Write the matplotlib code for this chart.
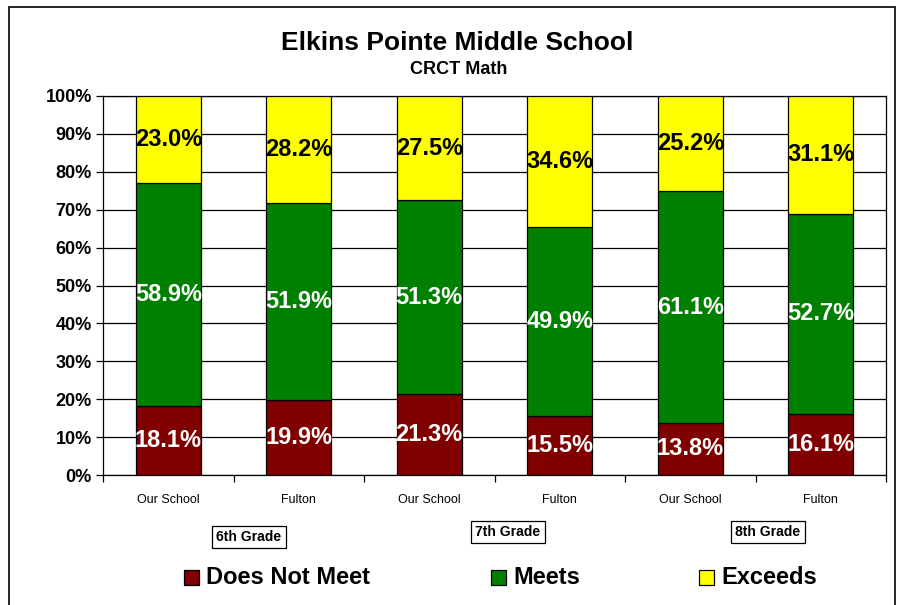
import matplotlib.pyplot as plt
from matplotlib.patches import Rectangle
import numpy as np

plt.rcParams['font.family'] = ['Liberation Sans', 'DejaVu Sans']

schools = ["Our School", "Fulton", "Our School", "Fulton", "Our School", "Fulton"]
grades = ["6th Grade", "7th Grade", "8th Grade"]
does_not_meet = [18.1, 19.9, 21.3, 15.5, 13.8, 16.1]
meets = [58.9, 51.9, 51.3, 49.9, 61.1, 52.7]
exceeds = [23.0, 28.2, 27.5, 34.6, 25.2, 31.1]

series = [
    ("Does Not Meet", does_not_meet, "#800000", "white"),
    ("Meets", meets, "#008000", "white"),
    ("Exceeds", exceeds, "#FFFF00", "black"),
]

fig = plt.figure(figsize=(8.98, 6.05), dpi=100)
ax = fig.add_axes([103 / 898, 1 - 475 / 605, 783 / 898, 379 / 605])

x = np.arange(len(schools))
totals = np.array(does_not_meet) + np.array(meets) + np.array(exceeds)
bottom = np.zeros(len(schools))
for name, vals, color, tcol in series:
    vals = np.array(vals)
    h = vals / totals * 100
    ax.bar(x, h, bottom=bottom, width=0.5, color=color, edgecolor="black",
           linewidth=0.9, label=name, zorder=3)
    for xi, bi, hi, v in zip(x, bottom, h, vals):
        ax.text(xi, bi + hi / 2, f"{v:.1f}%", ha="center", va="center",
                fontsize=17, fontweight="bold", color=tcol, zorder=4)
    bottom += h

ax.set_xlim(-0.5, len(schools) - 0.5)
ax.set_ylim(0, 100)
ax.set_yticks(np.arange(0, 101, 10))
ax.set_yticklabels([f"{v}%" for v in range(0, 101, 10)], fontsize=13, fontweight="bold")
ax.yaxis.grid(True, color="black", linewidth=0.9, zorder=0)
ax.set_axisbelow(True)
ax.tick_params(axis="y", length=5, width=0.9, pad=3)

ax.set_xticks(x)
ax.set_xticklabels(schools, fontsize=9)
ax.set_xticks(np.arange(-0.5, len(schools), 1), minor=True)
ax.tick_params(axis="x", which="major", length=0, pad=14)
ax.tick_params(axis="x", which="minor", length=5, width=0.9)
for s in ax.spines.values():
    s.set_linewidth(0.9)

# grade boxes
grade_pos = [(249, 537), (508, 532), (768, 532)]
for g, (px, py) in zip(grades, grade_pos):
    fig.text(px / 898, 1 - py / 605, g, ha="center", va="center", fontsize=10,
             fontweight="bold",
             bbox=dict(boxstyle="square,pad=0.3", facecolor="white", edgecolor="black", linewidth=0.9))

# title
fig.text(457 / 898, 1 - 43 / 605, "Elkins Pointe Middle School", ha="center", va="center",
         fontsize=19, fontweight="bold")
fig.text(459 / 898, 1 - 70 / 605, "CRCT Math", ha="center", va="center",
         fontsize=13, fontweight="bold")

# legend
leg_x = [184, 491, 699]
for (name, vals, color, tcol), lx in zip(series, leg_x):
    fig.patches.append(Rectangle((lx / 898, 1 - 585 / 605), 15 / 898, 15 / 605,
                                 transform=fig.transFigure, facecolor=color,
                                 edgecolor="black", linewidth=0.9))
    fig.text((lx + 22) / 898, 1 - 578 / 605, name, ha="left", va="center",
             fontsize=17, fontweight="bold")

# chart border
fig.patches.append(Rectangle((9 / 898, -0.05), 886 / 898, 1.05 - 7 / 605,
                             transform=fig.transFigure, fill=False,
                             edgecolor="black", linewidth=1.2))

fig.savefig("out.png", dpi=100)
